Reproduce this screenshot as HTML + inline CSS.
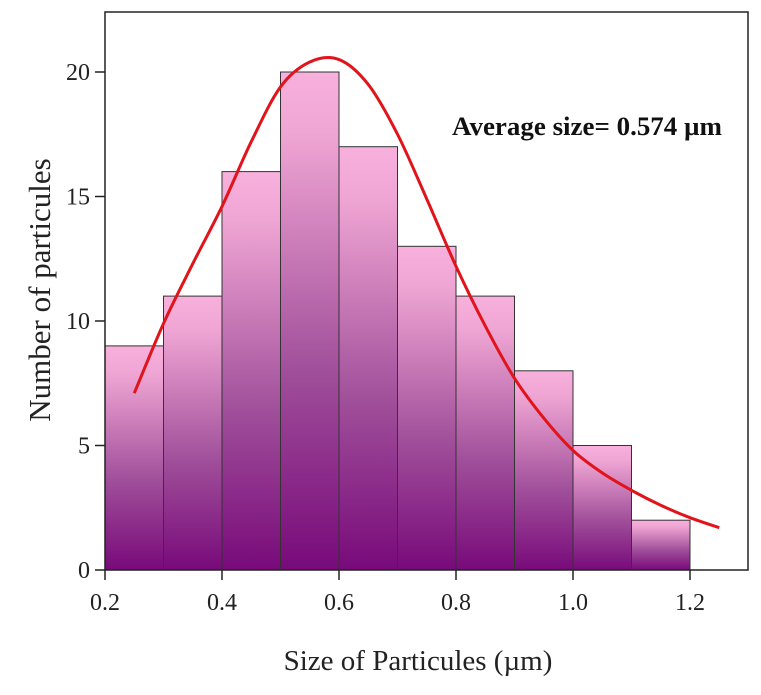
<!DOCTYPE html>
<html><head><meta charset="utf-8"><style>
html,body{margin:0;padding:0;background:#fff;}
svg{display:block;font-family:"Liberation Serif",serif;}
</style></head><body>
<svg id="chart" width="761" height="695">
<defs>
<linearGradient id="barGrad" x1="0" y1="0" x2="0" y2="1">
<stop offset="0" stop-color="#f8b0dd"/>
<stop offset="0.12" stop-color="#f0a6d4"/>
<stop offset="0.6" stop-color="#a04f9a"/>
<stop offset="1" stop-color="#780a7a"/>
</linearGradient>
</defs>
<g id="bars"></g>
<g id="curve"></g>
<rect x="105" y="12" width="643" height="558" fill="none" stroke="#222" stroke-width="1.5"/>
<g id="axes"></g>
<text x="452" y="135" font-size="26" font-weight="bold" fill="#111" textLength="270" lengthAdjust="spacingAndGlyphs">Average size= 0.574 µm</text>
<text x="418" y="670" font-size="29" text-anchor="middle" fill="#222">Size of Particules (µm)</text>
<text transform="translate(50,290) rotate(-90)" font-size="31" text-anchor="middle" fill="#222">Number of particules</text>
</svg>
<script>
const binStarts=[0.2,0.3,0.4,0.5,0.6,0.7,0.8,0.9,1.0,1.1];
const counts=[9,11,16,20,17,13,11,8,5,2];
const binWidth=0.1;
const curveX=[0.25,0.3,0.35,0.4,0.45,0.5,0.55,0.6,0.65,0.7,0.75,0.8,0.85,0.9,0.95,1.0,1.05,1.1,1.15,1.2,1.25];
const curveY=[7.1,9.9,12.3,14.6,17.2,19.4,20.4,20.5,19.5,17.5,14.9,12.2,9.8,7.7,6.1,4.8,3.9,3.2,2.6,2.1,1.7];
const xTicks=[0.2,0.4,0.6,0.8,1.0,1.2];
const xTickLabels=["0.2","0.4","0.6","0.8","1.0","1.2"];
const yTicks=[0,5,10,15,20];
const yTickLabels=["0","5","10","15","20"];
const NS="http://www.w3.org/2000/svg";
const X=v=>105+(v-0.2)*585;
const Y=v=>570-v*24.9;
function mk(t,a,p){const e=document.createElementNS(NS,t);for(const k in a)e.setAttribute(k,a[k]);p.appendChild(e);return e;}
const bars=document.getElementById('bars');
binStarts.forEach((b,i)=>{
  const r=mk('rect',{x:X(b),y:Y(counts[i]),width:X(b+binWidth)-X(b),height:Y(0)-Y(counts[i]),fill:'url(#barGrad)',stroke:'#333','stroke-width':1},bars);
  
  
});
const pts=curveX.map((x,i)=>[X(x),Y(curveY[i])]);
let d='M'+pts[0][0]+','+pts[0][1];
for(let i=0;i<pts.length-1;i++){
  const p0=pts[Math.max(i-1,0)],p1=pts[i],p2=pts[i+1],p3=pts[Math.min(i+2,pts.length-1)];
  d+=' C'+(p1[0]+(p2[0]-p0[0])/6)+','+(p1[1]+(p2[1]-p0[1])/6)+' '+(p2[0]-(p3[0]-p1[0])/6)+','+(p2[1]-(p3[1]-p1[1])/6)+' '+p2[0]+','+p2[1];
}
const c=mk('path',{d:d,fill:'none',stroke:'#e0141a','stroke-width':3},document.getElementById('curve'));


const ax=document.getElementById('axes');
xTicks.forEach((t,i)=>{
  mk('line',{x1:X(t),x2:X(t),y1:570,y2:580,stroke:'#222','stroke-width':1.5},ax);
  const l=mk('text',{x:X(t),y:610,'font-size':24,'text-anchor':'middle',fill:'#222'},ax);
  l.textContent=xTickLabels[i];
  
  
});
yTicks.forEach((t,i)=>{
  mk('line',{x1:95,x2:105,y1:Y(t),y2:Y(t),stroke:'#222','stroke-width':1.5},ax);
  const l=mk('text',{x:90,y:Y(t)+8,'font-size':24,'text-anchor':'end',fill:'#222'},ax);
  l.textContent=yTickLabels[i];
  
  
});
</script>
</body></html>
